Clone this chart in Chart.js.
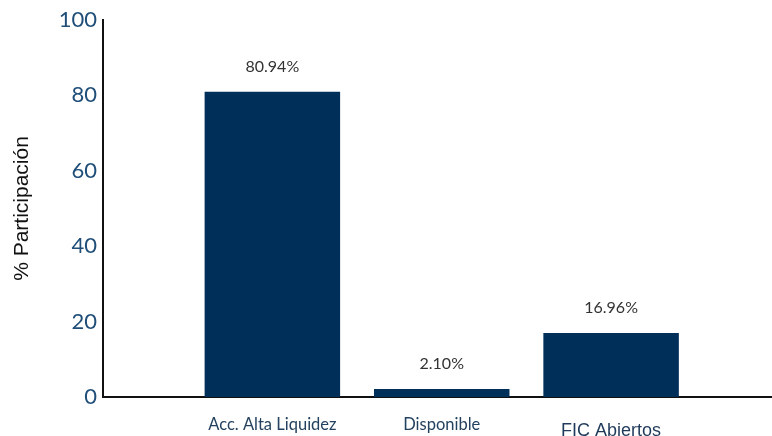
<!DOCTYPE html>
<html>
<head>
<meta charset="utf-8">
<script src="https://cdn.jsdelivr.net/npm/chart.js@4/dist/chart.umd.min.js"></script>
<style>
    html, body { margin: 0; padding: 0; background: #ffffff; }
    #wrap { width: 772px; height: 436px; }
</style>
</head>
<body>
<div id="wrap"><canvas id="shareChart"></canvas></div>
<script>
const categories = ['Acc. Alta Liquidez', 'Disponible', 'FIC Abiertos'];
const shares = [80.94, 2.10, 16.96];
const shareLabels = ['80.94%', '2.10%', '16.96%'];
const yTicks = [0, 20, 40, 60, 80, 100];

const barColor = '#00305a';
const tickBlue = '#1f4e79';

// category positions on a linear x axis (1, 2, 3) so the axis can run past the last bar
const positions = categories.map((c, i) => i + 1);

const valueLabels = {
    id: 'valueLabels',
    afterDatasetsDraw(chart) {
        const ctx = chart.ctx;
        const meta = chart.getDatasetMeta(0);
        ctx.save();
        ctx.font = '16px Lato';
        ctx.fillStyle = '#333333';
        ctx.textAlign = 'center';
        ctx.textBaseline = 'middle';
        meta.data.forEach((bar, i) => {
            ctx.fillText(shareLabels[i], bar.x, bar.y - 25);
        });
        ctx.restore();
    }
};

const categoryLabels = {
    id: 'categoryLabels',
    afterDraw(chart) {
        const ctx = chart.ctx;
        const xScale = chart.scales.x;
        ctx.save();
        ctx.textAlign = 'center';
        ctx.textBaseline = 'alphabetic';
        categories.forEach((label, i) => {
            const x = xScale.getPixelForValue(positions[i]);
            if (i === 2) {
                ctx.font = '18px "Liberation Sans", Arial, sans-serif';
                ctx.fillStyle = '#1f3a5a';
                ctx.fillText(label, x, 436);
            } else {
                ctx.font = '16.5px Lato';
                ctx.fillStyle = '#24425f';
                ctx.fillText(label, x, 430);
            }
        });
        ctx.restore();
    }
};

new Chart(document.getElementById('shareChart'), {
    type: 'bar',
    data: {
        datasets: [{
            data: positions.map((p, i) => ({ x: p, y: shares[i] })),
            backgroundColor: barColor,
            barPercentage: 0.8,
            categoryPercentage: 1
        }]
    },
    options: {
        responsive: true,
        maintainAspectRatio: false,
        animation: false,
        layout: { padding: { top: 20, right: 0, bottom: 39, left: 0 } },
        plugins: {
            legend: { display: false },
            tooltip: { enabled: false }
        },
        scales: {
            x: {
                type: 'linear',
                min: 0,
                max: 3.95,
                offset: false,
                grid: { display: false, drawTicks: false },
                border: { display: true, color: '#111111', width: 2 },
                ticks: { display: false },
                afterBuildTicks: (scale) => {
                    scale.ticks = positions.map(v => ({ value: v }));
                }
            },
            y: {
                min: 0,
                max: 100,
                grid: { display: false, drawTicks: false },
                border: { display: true, color: '#111111', width: 2 },
                afterBuildTicks: (scale) => {
                    scale.ticks = yTicks.map(v => ({ value: v }));
                },
                afterFit: (scale) => { scale.width = 103; },
                ticks: {
                    color: tickBlue,
                    font: { family: 'Lato', size: 22 },
                    padding: 6
                },
                title: {
                    display: true,
                    text: '% Participación',
                    color: '#111111',
                    font: { family: '"Liberation Sans", Arial, sans-serif', size: 21 },
                    padding: { top: 10, bottom: 0 }
                }
            }
        }
    },
    plugins: [valueLabels, categoryLabels]
});
</script>
</body>
</html>
